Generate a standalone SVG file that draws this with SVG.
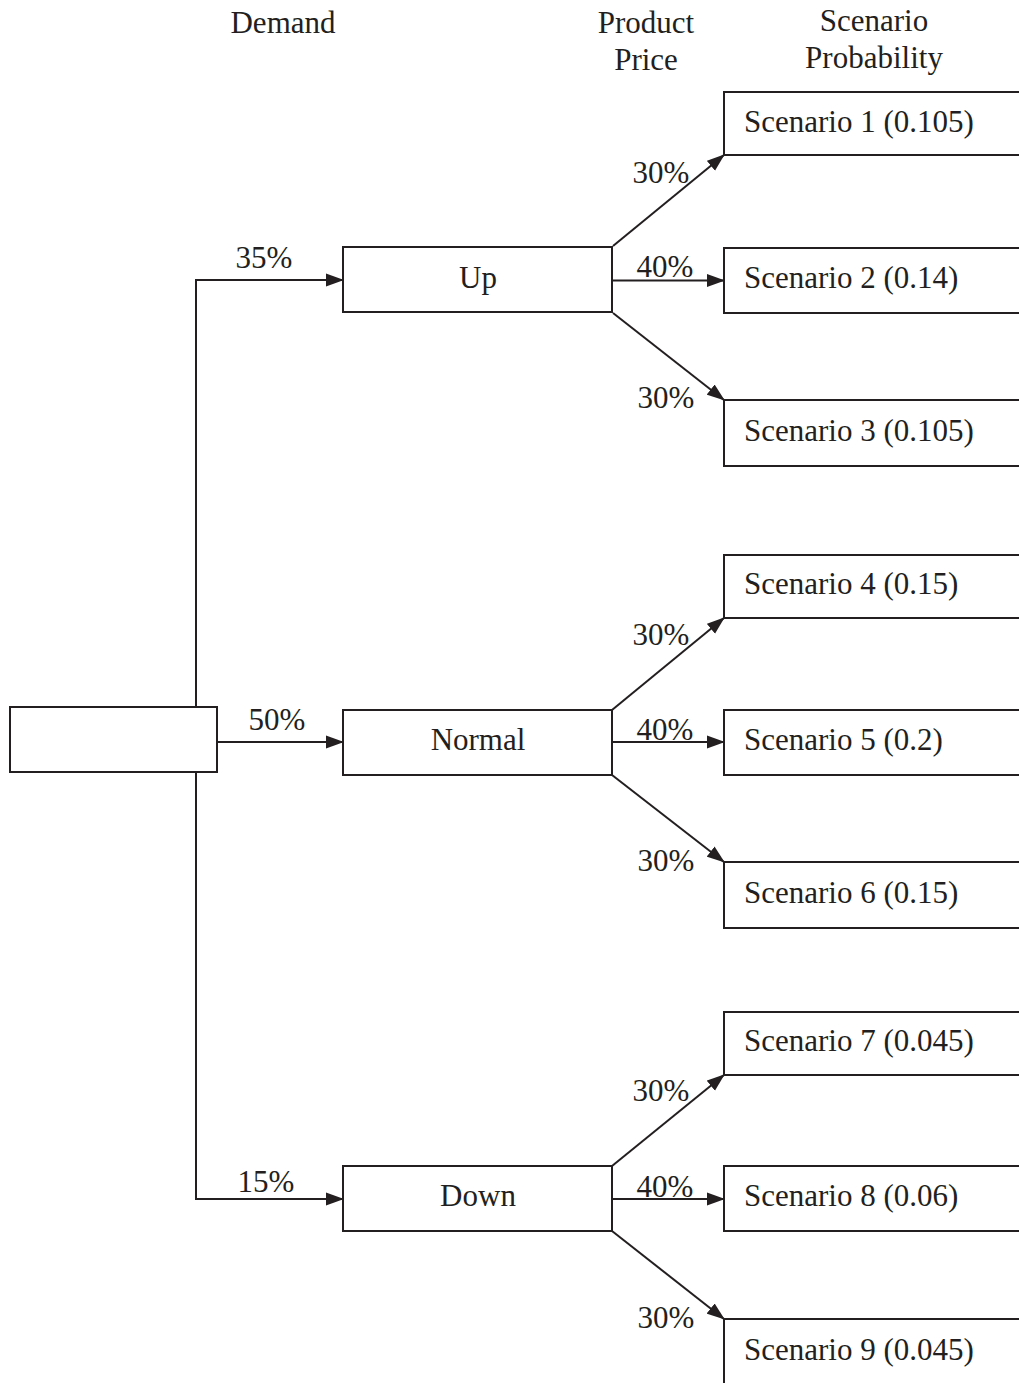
<svg xmlns="http://www.w3.org/2000/svg" width="1019" height="1383" viewBox="0 0 1019 1383">
<style>
.box{fill:#fff;stroke:#231f20;stroke-width:2}
.ln{fill:none;stroke:#231f20;stroke-width:2}
.t{font-family:"Liberation Serif","Times New Roman",serif;font-size:31px;fill:#231f20}
.m{text-anchor:middle}
</style>
<defs>
<marker id="ah" markerUnits="userSpaceOnUse" markerWidth="18" markerHeight="14" refX="17" refY="7" orient="auto">
<path d="M0,0.5 L18,7 L0,13.5 z" fill="#231f20"/>
</marker>
</defs>
<g id="headers">
<text class="t m" x="283" y="33">Demand</text>
<text class="t m" x="646" y="33">Product</text>
<text class="t m" x="646" y="70">Price</text>
<text class="t m" x="874" y="31">Scenario</text>
<text class="t m" x="874" y="68">Probability</text>
</g>
<g id="connectors">
<path class="ln" d="M196,707 V280 H343" marker-end="url(#ah)"/>
<path class="ln" d="M196,772 V1199 H343" marker-end="url(#ah)"/>
<path class="ln" d="M217,742 H343" marker-end="url(#ah)"/>
<path class="ln" d="M613,246 L724,155" marker-end="url(#ah)"/>
<path class="ln" d="M613,280.5 H724" marker-end="url(#ah)"/>
<path class="ln" d="M613,313 L724,400" marker-end="url(#ah)"/>
<path class="ln" d="M612,710 L724,618" marker-end="url(#ah)"/>
<path class="ln" d="M612,742 H724" marker-end="url(#ah)"/>
<path class="ln" d="M612,775 L724,862" marker-end="url(#ah)"/>
<path class="ln" d="M612,1166 L724,1075" marker-end="url(#ah)"/>
<path class="ln" d="M612,1199 H724" marker-end="url(#ah)"/>
<path class="ln" d="M612,1231 L724,1319" marker-end="url(#ah)"/>
<text class="t m" x="264" y="268">35%</text>
<text class="t m" x="277" y="730">50%</text>
<text class="t m" x="266" y="1192">15%</text>
<text class="t m" x="661" y="183">30%</text>
<text class="t m" x="665" y="277">40%</text>
<text class="t m" x="666" y="408">30%</text>
<text class="t m" x="661" y="645">30%</text>
<text class="t m" x="665" y="740">40%</text>
<text class="t m" x="666" y="871">30%</text>
<text class="t m" x="661" y="1101">30%</text>
<text class="t m" x="665" y="1197">40%</text>
<text class="t m" x="666" y="1328">30%</text>
</g>
<g id="root"><rect class="box" x="10" y="707" width="207" height="65"/></g>
<g id="up"><rect class="box" x="343" y="247" width="269" height="65"/><text class="t m" x="478" y="288">Up</text></g>
<g id="normal"><rect class="box" x="343" y="710" width="269" height="65"/><text class="t m" x="478" y="750">Normal</text></g>
<g id="down"><rect class="box" x="343" y="1166" width="269" height="65"/><text class="t m" x="478" y="1206">Down</text></g>
<g id="s1"><rect class="box" x="724" y="92" width="320" height="63"/><text class="t" x="744" y="132">Scenario 1 (0.105)</text></g>
<g id="s2"><rect class="box" x="724" y="248" width="320" height="65"/><text class="t" x="744" y="288">Scenario 2 (0.14)</text></g>
<g id="s3"><rect class="box" x="724" y="400" width="320" height="66"/><text class="t" x="744" y="441">Scenario 3 (0.105)</text></g>
<g id="s4"><rect class="box" x="724" y="555" width="320" height="63"/><text class="t" x="744" y="594">Scenario 4 (0.15)</text></g>
<g id="s5"><rect class="box" x="724" y="710" width="320" height="65"/><text class="t" x="744" y="750">Scenario 5 (0.2)</text></g>
<g id="s6"><rect class="box" x="724" y="862" width="320" height="66"/><text class="t" x="744" y="903">Scenario 6 (0.15)</text></g>
<g id="s7"><rect class="box" x="724" y="1012" width="320" height="63"/><text class="t" x="744" y="1051">Scenario 7 (0.045)</text></g>
<g id="s8"><rect class="box" x="724" y="1166" width="320" height="65"/><text class="t" x="744" y="1206">Scenario 8 (0.06)</text></g>
<g id="s9"><rect class="box" x="724" y="1319" width="320" height="66"/><text class="t" x="744" y="1360">Scenario 9 (0.045)</text></g>
</svg>
